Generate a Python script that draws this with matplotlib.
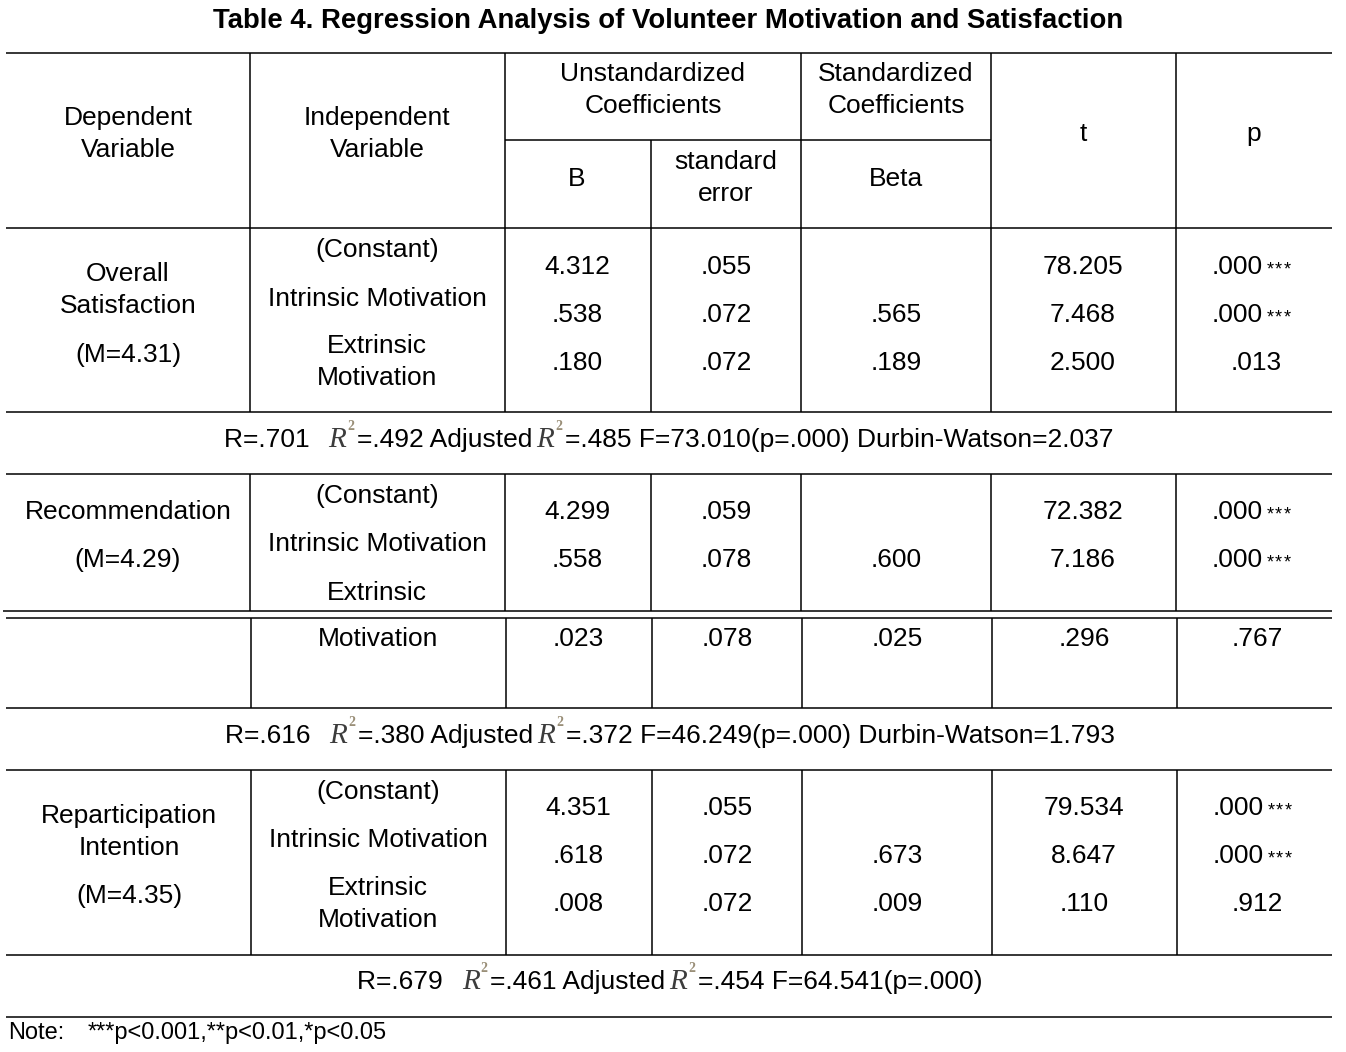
import matplotlib
matplotlib.use("Agg")
import matplotlib.pyplot as plt
from matplotlib import font_manager

# ---- table content ----
title = "Table 4. Regression Analysis of Volunteer Motivation and Satisfaction"
dependent = ["Overall\nSatisfaction", "Recommendation", "Reparticipation\nIntention"]
means = ["(M=4.31)", "(M=4.29)", "(M=4.35)"]
predictors = ["(Constant)", "Intrinsic Motivation", "Extrinsic\nMotivation"]

b_vals = [[4.312, 0.538, 0.180], [4.299, 0.558, 0.023], [4.351, 0.618, 0.008]]
se_vals = [[0.055, 0.072, 0.072], [0.059, 0.078, 0.078], [0.055, 0.072, 0.072]]
beta_vals = [[None, 0.565, 0.189], [None, 0.600, 0.025], [None, 0.673, 0.009]]
t_vals = [[78.205, 7.468, 2.500], [72.382, 7.186, 0.296], [79.534, 8.647, 0.110]]
p_vals = [[0.000, 0.000, 0.013], [0.000, 0.000, 0.767], [0.000, 0.000, 0.912]]

model_r = [0.701, 0.616, 0.679]
model_r2 = [0.492, 0.380, 0.461]
model_adj_r2 = [0.485, 0.372, 0.454]
model_f = [73.010, 46.249, 64.541]
model_f_p = [0.000, 0.000, 0.000]
durbin_watson = [2.037, 1.793, None]

note_text = "***p<0.001,**p<0.01,*p<0.05"


def fmt(v):
    s = f"{v:.3f}"
    return s[1:] if s.startswith("0.") else s


def stars(p):
    # the table only flags the p<0.001 level
    return 3 if p < 0.001 else 0


# ---- canvas in pixel coordinates ----
W, H = 1346, 1052
fig = plt.figure(figsize=(W / 100, H / 100), dpi=100)
ax = fig.add_axes([0, 0, 1, 1])
ax.set_xlim(0, W)
ax.set_ylim(H, 0)
ax.axis("off")
renderer = fig.canvas.get_renderer()

FONT = "Liberation Sans"
FS = 19
LS = 32   # line spacing, px
DY = 2    # baseline nudge

available = {f.name for f in font_manager.fontManager.ttflist}
title_font = "Liberation Sans Narrow" if "Liberation Sans Narrow" in available else FONT


def txt(x, y, s, ha="center", size=FS, **kw):
    lines = s.split("\n")
    y0 = y - LS * (len(lines) - 1) / 2 + DY
    for i, line in enumerate(lines):
        ax.text(x, y0 + i * LS, line, ha=ha, va="center", fontsize=size,
                family=FONT, **kw)


def hline(y, x0=6, x1=1332):
    ax.plot([x0, x1], [y, y], color="black", lw=1.1, solid_capstyle="butt")


def vline(x, y0, y1):
    ax.plot([x, x], [y0, y1], color="black", lw=1.1, solid_capstyle="butt")


col_x = [250, 505, 651, 801, 991, 1176]
cx = {"dep": 128, "ind": 377, "b": 577, "se": 726, "beta": 896, "t": 1083, "p": 1254}

# title, scaled to span the reference width
t_obj = ax.text(668, 21, title, ha="center", va="center", fontsize=19,
                fontweight="bold", family=title_font)
w = t_obj.get_window_extent(renderer).width
t_obj.set_fontsize(19 * 911 / w)

# ---- header ----
hline(53)
hline(140, 505, 991)
hline(228)
for x in col_x:
    vline(x, 140 if x == 651 else 53, 412)
txt(cx["dep"], 132, "Dependent\nVariable")
txt(cx["ind"], 132, "Independent\nVariable")
txt(653, 88, "Unstandardized\nCoefficients")
txt(cx["beta"], 88, "Standardized\nCoefficients")
txt(cx["b"], 177, "B")
txt(cx["se"], 176, "standard\nerror")
txt(cx["beta"], 177, "Beta")
txt(cx["t"], 132, "t")
txt(cx["p"], 132, "p")


def p_cell(y, p, dx=0):
    n = stars(p)
    if n:
        txt(1263 + dx, y, fmt(p), ha="right")
        for j in range(n):
            ax.text(1270 + dx + 8.5 * j, y + DY + 3, "*", ha="center", va="center",
                    fontsize=13, family=FONT, color="black")
    else:
        txt(cx["p"] + dx + 2, y, fmt(p))


def value_row(k, i, y, dx=0):
    txt(cx["b"] + dx, y, fmt(b_vals[k][i]))
    txt(cx["se"] + dx, y, fmt(se_vals[k][i]))
    if beta_vals[k][i] is not None:
        txt(cx["beta"] + dx, y, fmt(beta_vals[k][i]))
    txt(cx["t"] + dx, y, fmt(t_vals[k][i]))
    p_cell(y, p_vals[k][i], dx)


def model_line(k, y, cx_line=669):
    y = y + DY
    parts = [(f"R={fmt(model_r[k])}  ", "n"), ("R", "r"),
             (f"={fmt(model_r2[k])} Adjusted", "n"), ("R", "r")]
    tail = f"={fmt(model_adj_r2[k])} F={model_f[k]:.3f}(p={fmt(model_f_p[k])})"
    if durbin_watson[k] is not None:
        tail += f" Durbin-Watson={durbin_watson[k]:.3f}"
    parts.append((tail, "n"))
    items = []
    for s, kind in parts:
        if kind == "n":
            o = ax.text(0, y, s, ha="left", va="center", fontsize=FS, family=FONT)
            items.append((o, None, 0, o.get_window_extent(renderer).width))
        else:
            o = ax.text(0, y, s, ha="left", va="center", fontsize=21,
                        family="Liberation Serif", style="italic", color="#3c3c3c")
            sup = ax.text(0, y - 14, "2", ha="left", va="center", fontsize=10,
                          family="Liberation Serif", fontweight="bold", color="#9a8f78")
            rw = o.get_window_extent(renderer).width
            items.append((o, sup, rw, rw + 15))
    x = cx_line - sum(it[3] for it in items) / 2
    for o, sup, rw, wd in items:
        if sup is None:
            o.set_x(x)
        else:
            o.set_x(x + 4)
            sup.set_x(x + 4 + rw + 1)
        x += wd


# ---- section 1 ----
txt(cx["dep"], 288, dependent[0])
txt(cx["dep"], 353, means[0])
for s, y in zip(predictors, [248, 297, 360]):
    txt(cx["ind"], y, s)
for i, y in enumerate([265, 313, 361]):
    value_row(0, i, y)
hline(412)
model_line(0, 438)
hline(474)

# ---- section 2 (split across a page break) ----
for x in col_x:
    vline(x, 474, 611)
txt(cx["dep"], 510, dependent[1])
txt(cx["dep"], 558, means[1])
txt(cx["ind"], 494, predictors[0])
txt(cx["ind"], 542, predictors[1])
ext1, ext2 = predictors[2].split("\n")
txt(cx["ind"], 591, ext1)
for i, y in enumerate([510, 558]):
    value_row(1, i, y)
hline(611, 3, 1332)
hline(618)
for x in col_x:
    vline(x + 1, 618, 708)
txt(cx["ind"] + 1, 637, ext2)
value_row(1, 2, 637, 1)
hline(708)
model_line(1, 734, 670)
hline(770)

# ---- section 3 ----
for x in col_x:
    vline(x + 1, 770, 955)
txt(cx["dep"] + 1, 830, dependent[2])
txt(cx["dep"] + 1, 894, means[2])
for s, y in zip(predictors, [790, 838, 902]):
    txt(cx["ind"] + 1, y, s)
for i, y in enumerate([806, 854, 902]):
    value_row(2, i, y, 1)
hline(955)
model_line(2, 980, 670)
hline(1017)

# ---- note ----
txt(8, 1031, "Note:", ha="left", size=17)
txt(88, 1031, note_text, ha="left", size=17)

fig.savefig("out.png", dpi=100)
